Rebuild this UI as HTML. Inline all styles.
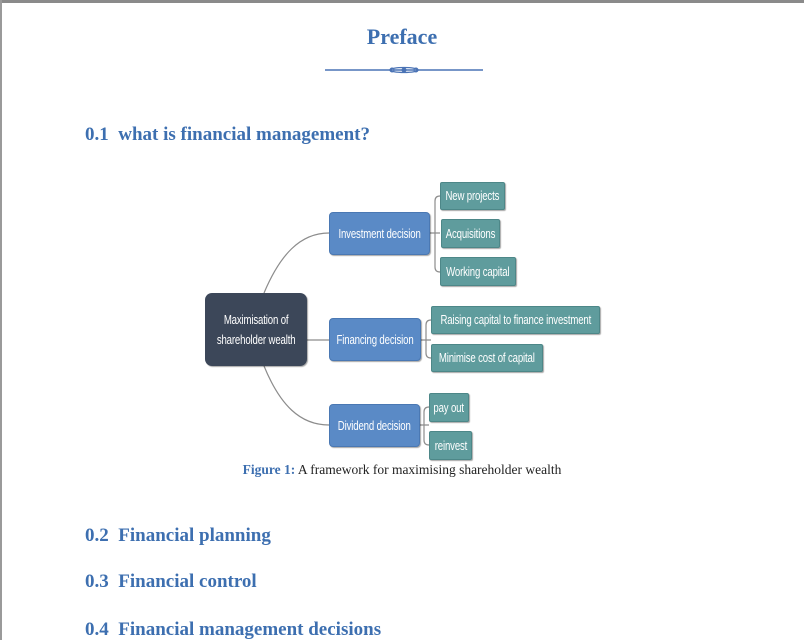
<!DOCTYPE html>
<html><head><meta charset="utf-8"><style>
body{margin:0;width:804px;height:640px;position:relative;background:#fff;overflow:hidden;font-family:"Liberation Serif",serif}
.tb{position:absolute;left:0;top:0;width:804px;height:3px;background:#8a8a8a}
.lb{position:absolute;left:0;top:0;width:2px;height:640px;background:#9a9a9a}
.h{position:absolute;color:#3d6fb0;font-weight:bold;font-size:19px;white-space:nowrap;line-height:1}
.n{position:absolute;color:#fff;font-family:"Liberation Sans",sans-serif;font-size:13px;display:flex;align-items:center;justify-content:center;text-align:center;border-radius:4px;line-height:1.5;white-space:nowrap;box-shadow:1px 1px 1px rgba(0,0,0,.35)}
.n span{display:inline-block;transform:scaleX(0.74);letter-spacing:-0.2px}
.r{background:#3c4759;border-radius:7px}
.b{background:#5a8ac6;border:1px solid #4a78b3;box-sizing:border-box}
.t{background:#5f9c9d;border:1px solid #4d8788;box-sizing:border-box;border-radius:2px}
</style></head><body>
<div class="tb"></div><div class="lb"></div>
<div class="h" style="left:0;width:804px;text-align:center;top:26px;font-size:22px">Preface</div>
<svg style="position:absolute;left:0;top:0" width="804" height="640">
<line x1="325" y1="70" x2="483" y2="70" stroke="#4a73b5" stroke-width="1.5"/>
<ellipse cx="404" cy="70" rx="14" ry="2.5" fill="none" stroke="#4a73b5" stroke-width="1.3"/>
<circle cx="392" cy="70" r="2" fill="none" stroke="#4a73b5"/><circle cx="416" cy="70" r="2" fill="none" stroke="#4a73b5"/>
<circle cx="404" cy="70" r="2.5" fill="#4a73b5"/>
<g fill="none" stroke="#8c8c8c" stroke-width="1.2">
<path d="M264 293 C280 255 300 233 329 233"/>
<path d="M307 340 L329 340"/>
<path d="M264 366 C280 405 300 425 329 425"/>
<path d="M430 233 L440 233 M440 196 Q435 196 435 201 L435 267 Q435 272 440 272"/>
<path d="M421 340 L431 340 M431 320 Q426 320 426 325 L426 353 Q426 358 431 358"/>
<path d="M420 425 L429 425 M429 407 Q424 407 424 412 L424 440 Q424 445 429 445"/>
</g>
</svg>
<div class="h" style="left:85px;top:125px">0.1&nbsp; what is financial management?</div>
<div class="n r" style="left:205px;top:293px;width:102px;height:73px"><span>Maximisation of<br>shareholder wealth</span></div>
<div class="n b" style="left:329px;top:212px;width:101px;height:43px"><span>Investment decision</span></div>
<div class="n b" style="left:329px;top:318px;width:92px;height:43px"><span>Financing decision</span></div>
<div class="n b" style="left:329px;top:404px;width:91px;height:43px"><span>Dividend decision</span></div>
<div class="n t" style="left:440px;top:182px;width:65px;height:28px"><span>New projects</span></div>
<div class="n t" style="left:441px;top:219px;width:59px;height:29px"><span>Acquisitions</span></div>
<div class="n t" style="left:440px;top:257px;width:76px;height:29px"><span>Working capital</span></div>
<div class="n t" style="left:431px;top:306px;width:169px;height:28px"><span>Raising capital to finance investment</span></div>
<div class="n t" style="left:431px;top:344px;width:112px;height:28px"><span>Minimise cost of capital</span></div>
<div class="n t" style="left:429px;top:393px;width:40px;height:29px"><span>pay out</span></div>
<div class="n t" style="left:429px;top:431px;width:43px;height:29px"><span>reinvest</span></div>
<div style="position:absolute;left:0;width:804px;text-align:center;top:462px;font-size:13.5px;color:#222;white-space:nowrap"><b style="color:#3d6fb0">Figure 1:</b> A framework for maximising shareholder wealth</div>
<div class="h" style="left:85px;top:526px">0.2&nbsp; Financial planning</div>
<div class="h" style="left:85px;top:572px">0.3&nbsp; Financial control</div>
<div class="h" style="left:85px;top:620px">0.4&nbsp; Financial management decisions</div>
</body></html>
